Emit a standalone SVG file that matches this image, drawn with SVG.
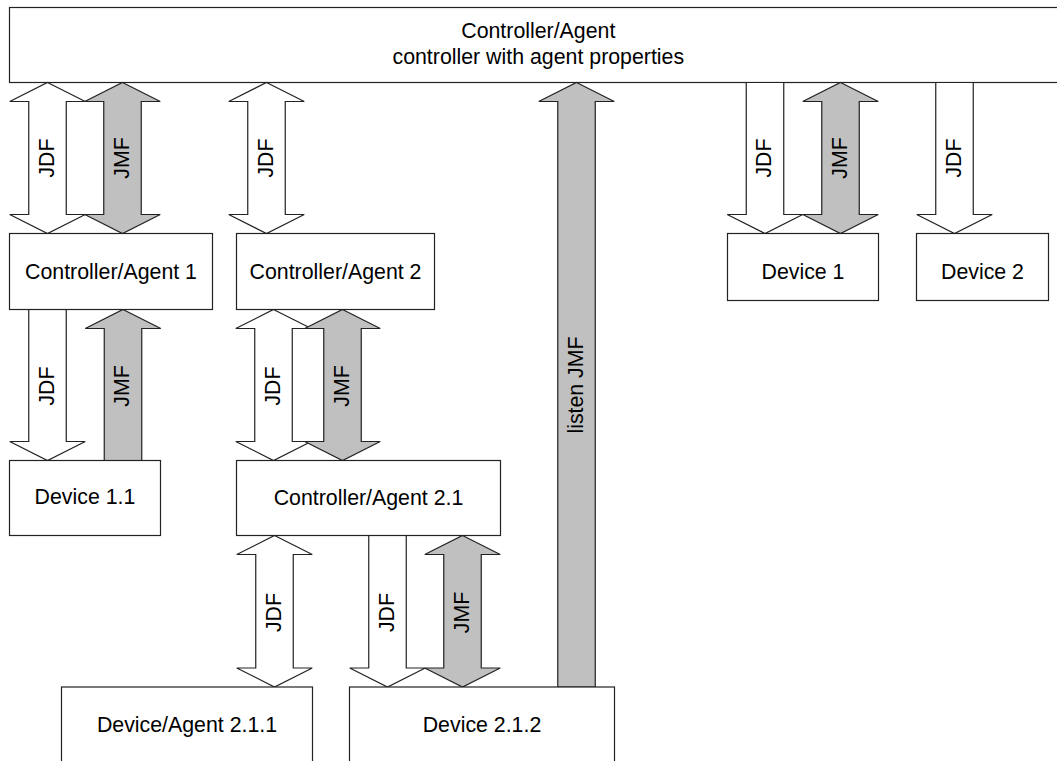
<svg xmlns="http://www.w3.org/2000/svg" width="1057" height="761" viewBox="0 0 1057 761">
<style>
.box{fill:#fff;stroke:#222;stroke-width:1.2}
.w{fill:#fff;stroke:#222;stroke-width:1.2;stroke-linejoin:miter}
.g{fill:#c0c0c0;stroke:#222;stroke-width:1.2;stroke-linejoin:miter}
text{font-family:"Liberation Sans",Arial,sans-serif;font-size:21.33px;fill:#000;text-anchor:middle}
</style>
<rect width="1057" height="761" fill="#fff"/>
<g id="controller-agent">
<rect class="box" x="9.5" y="7.5" width="1070" height="75"/>
<text x="538.3" y="38">Controller/Agent</text>
<text x="538.3" y="63.5">controller with agent properties</text>
</g>
<g id="connectors">
<polygon class="w" points="47.5,82.5 85.25,101.5 66.25,101.5 66.25,214.5 85.25,214.5 47.5,233.5 9.75,214.5 28.75,214.5 28.75,101.5 9.75,101.5"/>
<polygon class="g" points="122.5,82.5 160.25,101.5 141.25,101.5 141.25,214.5 160.25,214.5 122.5,233.5 84.75,214.5 103.75,214.5 103.75,101.5 84.75,101.5"/>
<polygon class="w" points="266.5,82.5 304.25,101.5 285.25,101.5 285.25,214.5 304.25,214.5 266.5,233.5 228.75,214.5 247.75,214.5 247.75,101.5 228.75,101.5"/>
<polygon class="g" points="576.5,82.5 614.25,101.5 595.25,101.5 595.25,687 557.75,687 557.75,101.5 538.75,101.5"/>
<polygon class="w" points="746.25,82.5 783.75,82.5 783.75,214.5 802.75,214.5 765,233.5 727.25,214.5 746.25,214.5"/>
<polygon class="g" points="840.5,82.5 878.25,101.5 859.25,101.5 859.25,214.5 878.25,214.5 840.5,233.5 802.75,214.5 821.75,214.5 821.75,101.5 802.75,101.5"/>
<polygon class="w" points="935.75,82.5 973.25,82.5 973.25,214.5 992.25,214.5 954.5,233.5 916.75,214.5 935.75,214.5"/>
<polygon class="w" points="28.75,309.5 66.25,309.5 66.25,441.5 85.25,441.5 47.5,460.5 9.75,441.5 28.75,441.5"/>
<polygon class="g" points="123,309.5 160.75,328.5 141.75,328.5 141.75,460.5 104.25,460.5 104.25,328.5 85.25,328.5"/>
<polygon class="w" points="273.5,309.5 311.25,328.5 292.25,328.5 292.25,441.5 311.25,441.5 273.5,460.5 235.75,441.5 254.75,441.5 254.75,328.5 235.75,328.5"/>
<polygon class="g" points="342.5,309.5 380.25,328.5 361.25,328.5 361.25,441.5 380.25,441.5 342.5,460.5 304.75,441.5 323.75,441.5 323.75,328.5 304.75,328.5"/>
<polygon class="w" points="274.5,535.5 312.25,554.5 293.25,554.5 293.25,668 312.25,668 274.5,687 236.75,668 255.75,668 255.75,554.5 236.75,554.5"/>
<polygon class="w" points="368.75,535.5 406.25,535.5 406.25,668 425.25,668 387.5,687 349.75,668 368.75,668"/>
<polygon class="g" points="462.5,535.5 500.25,554.5 481.25,554.5 481.25,668 500.25,668 462.5,687 424.75,668 443.75,668 443.75,554.5 424.75,554.5"/>
<text transform="translate(53.5,158) rotate(-90)">JDF</text>
<text transform="translate(128.5,158) rotate(-90)">JMF</text>
<text transform="translate(272.5,158) rotate(-90)">JDF</text>
<text transform="translate(582.5,385) rotate(-90)">listen JMF</text>
<text transform="translate(771,158) rotate(-90)">JDF</text>
<text transform="translate(846.5,158) rotate(-90)">JMF</text>
<text transform="translate(960.5,158) rotate(-90)">JDF</text>
<text transform="translate(53.5,386) rotate(-90)">JDF</text>
<text transform="translate(129,386) rotate(-90)">JMF</text>
<text transform="translate(279.5,386) rotate(-90)">JDF</text>
<text transform="translate(348.5,386) rotate(-90)">JMF</text>
<text transform="translate(280.5,612.5) rotate(-90)">JDF</text>
<text transform="translate(393.5,612.5) rotate(-90)">JDF</text>
<text transform="translate(468.5,612.5) rotate(-90)">JMF</text>
</g>
<g id="controller-agent-1">
<rect class="box" x="9.5" y="233.5" width="203" height="76"/>
<text x="111" y="279">Controller/Agent 1</text>
</g>
<g id="controller-agent-2">
<rect class="box" x="236.5" y="233.5" width="198" height="76"/>
<text x="335.5" y="279">Controller/Agent 2</text>
</g>
<g id="device-1">
<rect class="box" x="727.5" y="233.5" width="151" height="67"/>
<text x="803" y="278.5">Device 1</text>
</g>
<g id="device-2">
<rect class="box" x="916.5" y="233.5" width="132" height="67"/>
<text x="982.5" y="278.5">Device 2</text>
</g>
<g id="device-1-1">
<rect class="box" x="9.5" y="460.5" width="151" height="75"/>
<text x="85" y="504">Device 1.1</text>
</g>
<g id="controller-agent-2-1">
<rect class="box" x="236.5" y="460.5" width="264" height="75"/>
<text x="368.5" y="505">Controller/Agent 2.1</text>
</g>
<g id="device-agent-2-1-1">
<rect class="box" x="61.5" y="687" width="251" height="80"/>
<text x="187" y="732">Device/Agent 2.1.1</text>
</g>
<g id="device-2-1-2">
<rect class="box" x="349.5" y="687" width="265" height="80"/>
<text x="482" y="732">Device 2.1.2</text>
</g>
</svg>
